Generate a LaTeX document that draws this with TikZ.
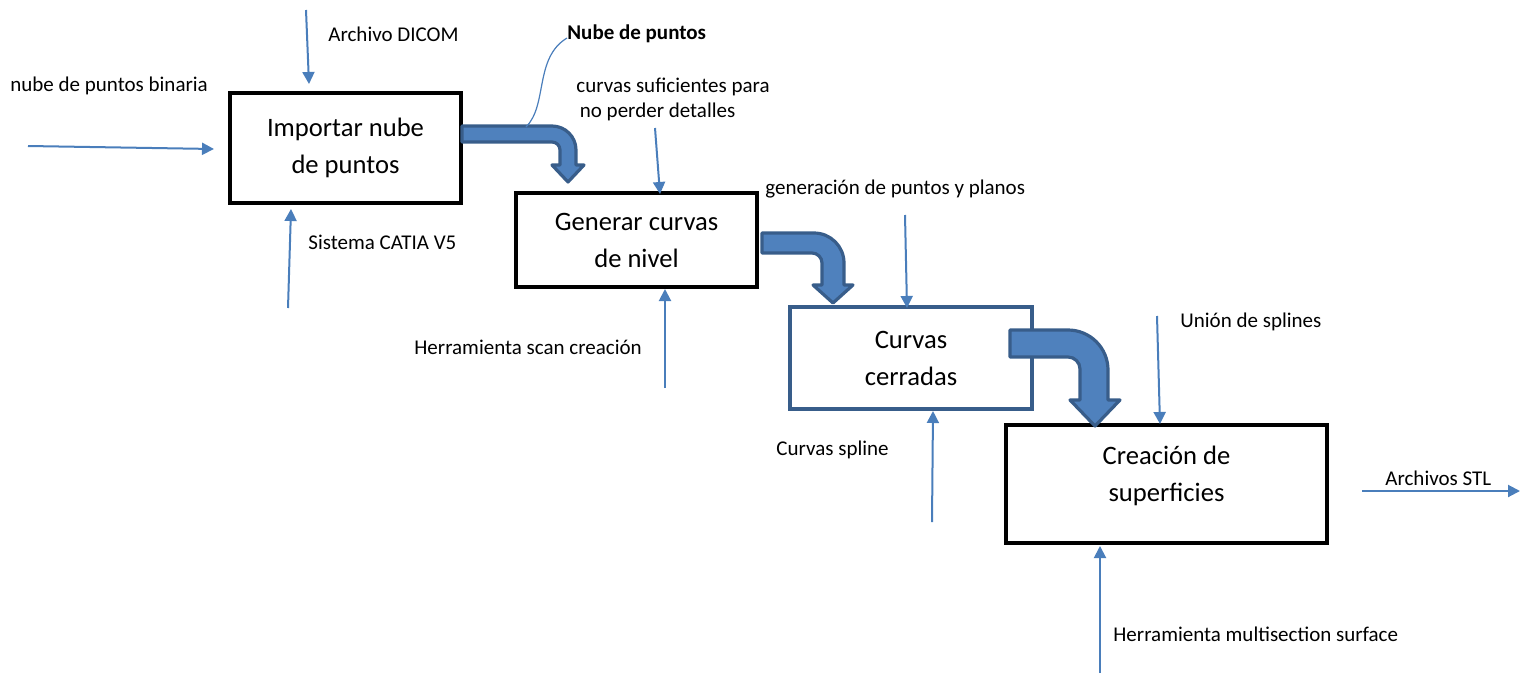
\documentclass[tikz,border=0pt]{standalone}
\usepackage{fontspec}
\setmainfont{Carlito}
\usetikzlibrary{arrows.meta}
\definecolor{flow}{HTML}{4A7EBB}
\definecolor{bendfill}{HTML}{4F81BD}
\definecolor{bendline}{HTML}{385D8A}
\tikzset{
  box/.style={draw,line width=2pt,align=center,font=\fontsize{13.3}{18.5}\selectfont},
  lbl/.style={anchor=west,inner sep=0pt,font=\fontsize{10.5}{12.5}\selectfont},
  flowarrow/.style={draw=flow,line width=1pt,-{Triangle[length=6pt,width=6pt]}},
  bentarrow/.style={fill=bendfill,draw=bendline,line width=1.6pt,line join=round}
}
\begin{document}
\begin{tikzpicture}[x=0.5pt,y=-0.5pt]
\useasboundingbox (0,0) rectangle (1531,675);
%boxes
\node[box,minimum width=115.5pt,minimum height=55pt] (B1) at (345.5,148) {Importar nube\\de puntos};
\node[box,minimum width=120.5pt,minimum height=47pt] (B2) at (636.5,240) {Generar curvas\\de nivel};
\node[box,draw=bendline,minimum width=121pt,minimum height=51pt] (B3) at (911,358) {Curvas\\cerradas};
\node[box,minimum width=160.5pt,minimum height=59pt] (B4) at (1166.5,484) {};
\node[box,draw=none] (T4) at (1166.5,476) {Creación de\\superficies};
%labels
\node[lbl] (Lbin) at (10,86) {nube de puntos binaria};
\node[lbl] (Ldic) at (328,34) {Archivo DICOM};
\node[lbl] (Lcat) at (308,242) {Sistema CATIA V5};
\node[lbl,font=\fontsize{10.5}{12.5}\selectfont\bfseries] (Lnub) at (567,34) {Nube de puntos};
\node[lbl,align=left,font=\fontsize{10.5}{12.5}\selectfont] (Lsuf) at (576,99) {curvas suficientes para\\\,no perder detalles};
\node[lbl] (Lgen) at (765,189) {generación de puntos y planos};
\node[lbl] (Lscn) at (414,347) {Herramienta scan creación};
\node[lbl] (Lspl) at (776,450) {Curvas spline};
\node[lbl] (Luni) at (1180,322) {Unión de splines};
\node[lbl] (Lstl) at (1385,478) {Archivos STL};
\node[lbl] (Lmul) at (1113,634) {Herramienta multisection surface};
%thin arrows
\coordinate (a1) at (28,146);   \coordinate (a2) at (214,149);
\coordinate (b1) at (306,10);   \coordinate (b2) at (309,84);
\coordinate (c1) at (288,308);  \coordinate (c2) at (291,209);
\coordinate (d1) at (655,128);  \coordinate (d2) at (660,194);
\coordinate (e1) at (905,215);  \coordinate (e2) at (907,308);
\coordinate (f1) at (665,388);  \coordinate (f2) at (665,289);
\coordinate (g1) at (932,522);  \coordinate (g2) at (933,411);
\coordinate (h1) at (1157,316); \coordinate (h2) at (1160,424);
\coordinate (i1) at (1362,491); \coordinate (i2) at (1520,491);
\coordinate (j1) at (1100,673); \coordinate (j2) at (1100,546);
\draw[flowarrow] (a1)--(a2);
\draw[flowarrow] (b1)--(b2);
\draw[flowarrow] (c1)--(c2);
\draw[flowarrow] (d1)--(d2);
\draw[flowarrow] (e1)--(e2);
\draw[flowarrow] (f1)--(f2);
\draw[flowarrow] (g1)--(g2);
\draw[flowarrow] (h1)--(h2);
\draw[flowarrow] (i1)--(i2);
\draw[flowarrow] (j1)--(j2);
%bent arrows
\draw[bentarrow] (462,126) [rounded corners=12pt] -- (576,126) [sharp corners] -- (576,165) -- (584,165) -- (568,182) -- (552,165) -- (560,165) [rounded corners=4pt] -- (560,142) [sharp corners] -- (462,142) -- cycle;
\draw[bentarrow] (762,233) [rounded corners=15pt] -- (844,233) [sharp corners] -- (844,285) -- (853,285) -- (833,303) -- (813,285) -- (822,285) [rounded corners=5pt] -- (822,253) [sharp corners] -- (762,253) -- cycle;
\draw[bentarrow] (1010,330) [rounded corners=20pt] -- (1108,330) [sharp corners] -- (1108,400) -- (1120,400) -- (1095,426) -- (1070,400) -- (1080,400) [rounded corners=6pt] -- (1080,357) [sharp corners] -- (1010,357) -- cycle;
%callout
\coordinate (k1) at (526,127);
\draw[flow,line width=0.6pt] (k1) .. controls (548,105) and (534,58) .. ([yshift=-2pt]Lnub.west);
\end{tikzpicture}
\end{document}
